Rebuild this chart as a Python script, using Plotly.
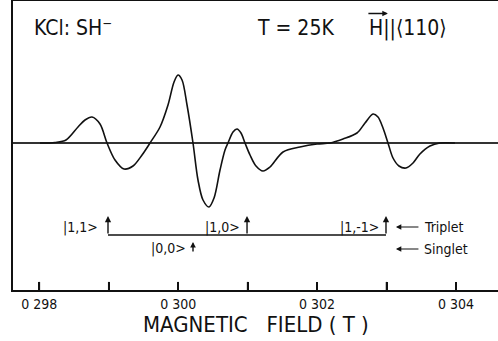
import plotly.graph_objects as go

# ---- data ----
field_T = [0.298010, 0.298154, 0.298226, 0.298384, 0.298557, 0.298658, 0.298759,
           0.298874, 0.298975, 0.299090, 0.299220, 0.299349, 0.299479, 0.299594,
           0.299738, 0.299853, 0.299940, 0.299997, 0.300055, 0.300127, 0.300213,
           0.300285, 0.300357, 0.300444, 0.300516, 0.300602, 0.300674, 0.300717,
           0.300789, 0.300847, 0.300904, 0.300962, 0.301034, 0.301120, 0.301221,
           0.301322, 0.301509, 0.301754, 0.301999, 0.302186, 0.302373, 0.302574,
           0.302690, 0.302805, 0.302877, 0.302949, 0.303021, 0.303093, 0.303179,
           0.303280, 0.303381, 0.303481, 0.303625, 0.303769, 0.303985]
signal = [0.0, 0.0, 0.05, 0.3, 1.6, 2.3, 2.6,
          1.9, 0.0, -1.7, -2.6, -2.3, -1.2, 0.0,
          1.6, 3.8, 6.1, 6.8, 6.3, 3.8, 0.0,
          -3.7, -5.7, -6.4, -5.5, -2.7, -0.7, 0.0,
          1.1, 1.4, 1.0, 0.0, -1.2, -2.3, -2.8,
          -2.4, -0.9, -0.4, -0.1, 0.0, 0.4, 1.0,
          2.0, 2.9, 2.6, 1.5, 0.0, -1.5, -2.3,
          -2.5, -2.0, -1.1, -0.3, 0.0, 0.0]

triplet_fields = [0.298989, 0.300991, 0.302992]
triplet_labels = ["|1,1>", "|1,0>", "|1,-1>"]
triplet_label_x = [0.298586, 0.300631, 0.302604]
singlet_field = 0.300213
singlet_label = "|0,0>"
singlet_label_x = 0.299853

tick_vals = [0.298, 0.299, 0.300, 0.301, 0.302, 0.303, 0.304]
tick_text = ["0 298", "", "0 300", "", "0 302", "", "0 304"]

FONT = "DejaVu Sans Condensed, Liberation Sans Narrow, DejaVu Sans, sans-serif"
INK = "#111111"

fig = go.Figure()
fig.add_trace(go.Scatter(x=field_T, y=signal, mode="lines",
                         line=dict(color=INK, width=1.6, shape="spline", smoothing=0.9),
                         hoverinfo="skip", showlegend=False))

# triplet connecting line
fig.add_trace(go.Scatter(x=[triplet_fields[0], triplet_fields[-1]], y=[-9.2, -9.2],
                         mode="lines", line=dict(color=INK, width=1.4),
                         hoverinfo="skip", showlegend=False))

ann = []
for f in triplet_fields:
    ann.append(dict(x=f, y=-7.3, ax=f, ay=-9.2, xref="x", yref="y", axref="x", ayref="y",
                    text="", showarrow=True, arrowhead=2, arrowsize=0.9, arrowwidth=1.4,
                    arrowcolor=INK))
for lx, lt in zip(triplet_label_x, triplet_labels):
    ann.append(dict(x=lx, y=-8.4, xref="x", yref="y", text=lt, showarrow=False,
                    xanchor="center", yanchor="middle",
                    font=dict(family=FONT, size=14, color=INK)))
ann.append(dict(x=singlet_field, y=-9.9, ax=singlet_field, ay=-11.0, xref="x", yref="y",
                axref="x", ayref="y", text="", showarrow=True, arrowhead=2, arrowsize=0.8,
                arrowwidth=1.4, arrowcolor=INK))
ann.append(dict(x=singlet_label_x, y=-10.5, xref="x", yref="y", text=singlet_label,
                showarrow=False, xanchor="center", yanchor="middle",
                font=dict(family=FONT, size=14, color=INK)))

# Triplet / Singlet legend arrows
for yy, name in [(-8.4, "Triplet"), (-10.6, "Singlet")]:
    ann.append(dict(x=0.303135, y=yy, ax=0.303481, ay=yy, xref="x", yref="y",
                    axref="x", ayref="y", text="", showarrow=True, arrowhead=2,
                    arrowsize=0.9, arrowwidth=1.2, arrowcolor=INK))
    ann.append(dict(x=0.303510, y=yy, xref="x", yref="y", text=name, showarrow=False,
                    xanchor="left", yanchor="middle",
                    font=dict(family=FONT, size=14, color=INK)))

# header texts
hdr_y = 0.905
ann.append(dict(x=0.039, y=hdr_y, xref="paper", yref="paper", xanchor="left", yanchor="middle",
                text="KCl: SH⁻", showarrow=False, font=dict(family=FONT, size=21, color=INK)))
ann.append(dict(x=0.499, y=hdr_y, xref="paper", yref="paper", xanchor="left", yanchor="middle",
                text="T = 25K", showarrow=False, font=dict(family=FONT, size=21, color=INK)))
ann.append(dict(x=0.730, y=hdr_y, xref="paper", yref="paper", xanchor="left", yanchor="middle",
                text="H||⟨110⟩", showarrow=False, font=dict(family=FONT, size=21, color=INK)))
ann.append(dict(x=0.773, y=0.957, ax=-21, ay=0, xref="paper", yref="paper",
                axref="pixel", ayref="pixel", text="", showarrow=True, arrowhead=2,
                arrowsize=0.8, arrowwidth=1.4, arrowcolor=INK))

# axis title
ann.append(dict(x=0.5, y=-0.121, xref="paper", yref="paper", text="MAGNETIC   FIELD ( T )",
                xanchor="center", yanchor="middle",
                showarrow=False, font=dict(family=FONT, size=22, color=INK)))

# inward tick marks on the field axis, one per tick value
tick_shapes = [dict(type="line", xref="x", yref="paper", x0=v, x1=v, y0=0, y1=0.028,
                    line=dict(color=INK, width=1.6)) for v in tick_vals]

fig.update_layout(
    width=498, height=341,
    margin=dict(l=13, r=0, t=1, b=51),
    paper_bgcolor="white", plot_bgcolor="white",
    annotations=ann, shapes=tick_shapes,
    xaxis=dict(range=[0.297621, 0.304605], tickmode="array", tickvals=tick_vals,
               ticktext=tick_text,
               ticks="inside", ticklen=8, tickwidth=1.6, tickcolor=INK,
               showline=True, linecolor=INK, linewidth=2, mirror=True,
               showgrid=False, zeroline=False,
               tickfont=dict(family=FONT, size=14, color=INK)),
    yaxis=dict(range=[-14.7, 14.2], showticklabels=False, ticks="",
               showline=True, linecolor=INK, linewidth=2,
               showgrid=False, zeroline=True, zerolinecolor="#333333", zerolinewidth=2),
)

fig.write_html("out.html", config={"responsive": False, "displayModeBar": False},
               post_script="document.body.style.margin='0';document.body.style.overflow='hidden';")
